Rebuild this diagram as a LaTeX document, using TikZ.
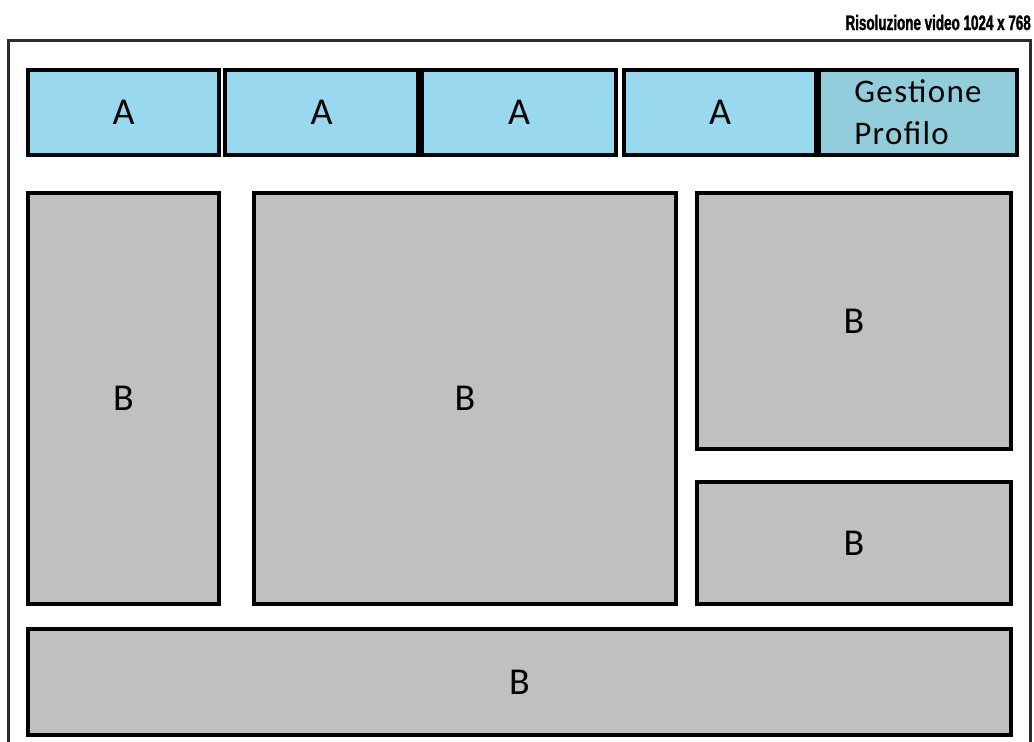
\documentclass[tikz,border=0pt]{standalone}
\usepackage{fontspec}
\setmainfont{Carlito}
\newfontfamily\titlefont[FakeStretch=0.64,FakeBold=1.5]{Liberation Sans}
\newfontfamily\gpfont[LetterSpace=4]{Carlito}
\definecolor{abl}{RGB}{153,217,240}
\definecolor{gbl}{RGB}{146,205,220}
\definecolor{bgr}{RGB}{192,192,192}
\definecolor{frm}{RGB}{45,45,45}
\tikzset{
  panel/.style={draw=black, line width=3.2pt, inner sep=0pt, rectangle},
  abox/.style={panel, fill=abl, font=\fontsize{38}{38}\selectfont},
  gbox/.style={panel, fill=gbl, align=left, font=\gpfont\fontsize{33}{42}\selectfont},
  bbox/.style={panel, fill=bgr, font=\fontsize{38}{38}\selectfont},
}
\begin{document}
\begin{tikzpicture}[x=1pt,y=-1pt]
\useasboundingbox (0,0) rectangle (1034,742);
% outer frame
\draw[frm, line width=3pt] (8,742) -- (8,40) -- (1030,40) -- (1030,742);
\node[anchor=base east, inner sep=0pt, font=\titlefont\bfseries\fontsize{21}{21}\selectfont] (title) at (1031,30) {Risoluzione video 1024 x 768};
% top row
\node[abox, minimum width=191pt, minimum height=85pt] (a1) at (123.5,112.5) {A};
\node[abox, minimum width=193pt, minimum height=85pt] (a2) at (321.5,112.5) {A};
\node[abox, minimum width=194pt, minimum height=85pt] (a3) at (519,112.5) {A};
\node[abox, minimum width=192pt, minimum height=85pt] (a4) at (720,112.5) {A};
\node[gbox, minimum width=198pt, minimum height=85pt] (gp) at (918,112.5) {Gestione\\Profilo};
% middle
\node[bbox, minimum width=191pt, minimum height=411pt] (bl) at (123.5,398.5) {B};
\node[bbox, minimum width=422pt, minimum height=411pt] (bm) at (465,398.5) {B};
\node[bbox, minimum width=314pt, minimum height=256pt] (brt) at (854,321) {B};
\node[bbox, minimum width=314pt, minimum height=122pt] (brb) at (854,543) {B};
% bottom
\node[bbox, minimum width=983pt, minimum height=106pt] (bb) at (519.5,682) {B};
\end{tikzpicture}
\end{document}
